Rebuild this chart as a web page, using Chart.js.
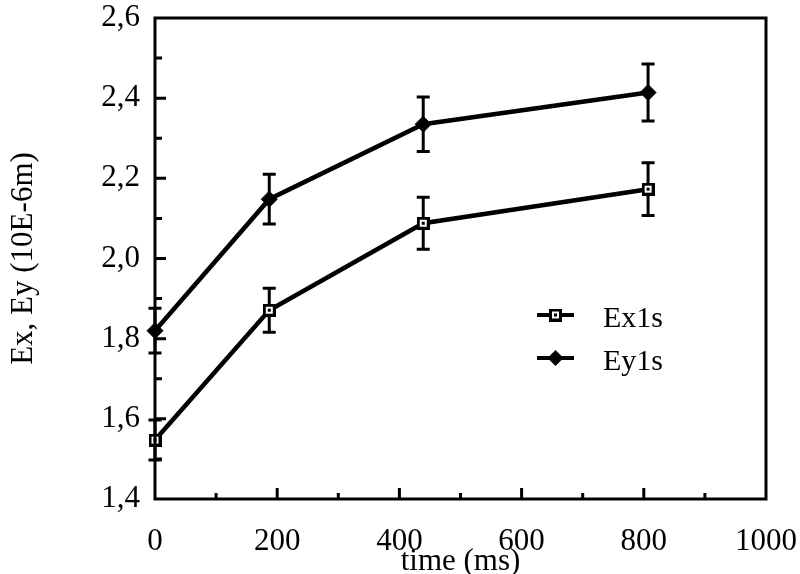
<!DOCTYPE html>
<html><head><meta charset="utf-8">
<script src="https://cdn.jsdelivr.net/npm/chart.js@4/dist/chart.umd.min.js"></script>
<style>html,body{margin:0;padding:0;background:#fff}</style>
</head><body>
<canvas id="c" width="800" height="574" style="width:800px;height:574px;display:block"></canvas>
<script>
// ---- data ----
const times   = [0, 187, 439, 807];
const ex1s    = [1.547, 1.871, 2.088, 2.173];
const ex1sErr = [0.050, 0.055, 0.065, 0.066];
const ey1s    = [1.820, 2.148, 2.335, 2.414];
const ey1sErr = [0.056, 0.062, 0.068, 0.071];
const seriesNames = ['Ex1s', 'Ey1s'];
const xTitle = 'time (ms)';
const yTitle = 'Ex, Ey (10E-6m)';
const xRange = [0, 1000], xMajorStep = 200, xMinorStep = 100;
const yRange = [1.4, 2.6], yMajorStep = 0.2, yMinorStep = 0.1;

const FONT = "'Liberation Serif', 'Times New Roman', serif";

function squareMarker() {
  const c = document.createElement('canvas');
  c.width = 13; c.height = 13;
  const g = c.getContext('2d');
  g.fillStyle = '#000'; g.fillRect(0, 0, 13, 13);
  g.fillStyle = '#fff'; g.fillRect(3, 3, 7, 7);
  g.fillStyle = '#000'; g.fillRect(5, 5, 3, 3);
  return c;
}
const sqImg = squareMarker();

const errorBars = {
  id: 'errorBars',
  beforeDatasetsDraw(chart) {
    const {ctx, scales: {x, y}} = chart;
    ctx.save();
    ctx.strokeStyle = '#000';
    ctx.lineWidth = 3;
    chart.data.datasets.forEach(ds => {
      ds.data.forEach((p, i) => {
        const e = ds.errors[i];
        const px = x.getPixelForValue(p.x);
        const y1 = y.getPixelForValue(p.y + e);
        const y2 = y.getPixelForValue(p.y - e);
        ctx.beginPath();
        ctx.moveTo(px, y1); ctx.lineTo(px, y2);
        ctx.moveTo(px - 6.5, y1); ctx.lineTo(px + 6.5, y1);
        ctx.moveTo(px - 6.5, y2); ctx.lineTo(px + 6.5, y2);
        ctx.stroke();
      });
    });
    ctx.restore();
  }
};

const frame = {
  id: 'frame',
  afterDraw(chart) {
    const {ctx, chartArea: a, scales: {x, y}} = chart;
    ctx.save();
    ctx.strokeStyle = '#000';
    ctx.lineWidth = 3;
    ctx.strokeRect(a.left, a.top, a.right - a.left, a.bottom - a.top);
    const ny = Math.round((yRange[1] - yRange[0]) / yMinorStep);
    const yRatio = Math.round(yMajorStep / yMinorStep);
    ctx.beginPath();
    for (let i = 1; i < ny; i++) {
      const v = yRange[0] + i * yMinorStep;
      const py = y.getPixelForValue(v);
      const len = (i % yRatio === 0) ? 11 : 7;
      ctx.moveTo(a.left, py); ctx.lineTo(a.left + len, py);
    }
    const nx = Math.round((xRange[1] - xRange[0]) / xMinorStep);
    const xRatio = Math.round(xMajorStep / xMinorStep);
    for (let i = 1; i < nx; i++) {
      const v = xRange[0] + i * xMinorStep;
      const px = x.getPixelForValue(v);
      const len = (i % xRatio === 0) ? 11 : 6;
      ctx.moveTo(px, a.bottom); ctx.lineTo(px, a.bottom - len);
    }
    ctx.stroke();
    ctx.restore();
  }
};

const legendBox = {
  id: 'legendBox',
  afterDraw(chart) {
    const {ctx, chartArea: a} = chart;
    const lx0 = a.left + 382, lx1 = a.left + 419;
    const rows = [a.top + 297, a.top + 340];
    ctx.save();
    ctx.font = '30px ' + FONT;
    ctx.fillStyle = '#000';
    ctx.textBaseline = 'middle';
    ctx.textAlign = 'left';
    chart.data.datasets.forEach((ds, i) => {
      const ly = rows[i];
      ctx.strokeStyle = '#000';
      ctx.lineWidth = 4;
      ctx.beginPath(); ctx.moveTo(lx0, ly); ctx.lineTo(lx1, ly); ctx.stroke();
      const cx = (lx0 + lx1) / 2;
      if (ds.pointStyle === 'rectRot') {
        ctx.beginPath();
        ctx.moveTo(cx - 8, ly); ctx.lineTo(cx, ly - 8); ctx.lineTo(cx + 8, ly); ctx.lineTo(cx, ly + 8);
        ctx.closePath(); ctx.fill();
      } else {
        ctx.drawImage(sqImg, cx - 6.5, ly - 6.5);
      }
      ctx.fillText(ds.label, a.left + 448, ly + 4);
    });
    ctx.restore();
  }
};

const mk = (xs, ys) => xs.map((t, i) => ({x: t, y: ys[i]}));

new Chart(document.getElementById('c'), {
  type: 'line',
  data: {
    datasets: [
      { label: seriesNames[0], data: mk(times, ex1s), errors: ex1sErr,
        borderColor: '#000', borderWidth: 4.5, tension: 0, fill: false,
        pointStyle: sqImg, pointRadius: 7, clip: false },
      { label: seriesNames[1], data: mk(times, ey1s), errors: ey1sErr,
        borderColor: '#000', backgroundColor: '#000', borderWidth: 4.5, tension: 0, fill: false,
        pointStyle: 'rectRot', pointRadius: 8, pointBorderWidth: 1, pointBackgroundColor: '#000', clip: false }
    ]
  },
  options: {
    responsive: false,
    animation: false,
    devicePixelRatio: 1,
    layout: { padding: 0 },
    plugins: { legend: { display: false }, tooltip: { enabled: false } },
    scales: {
      x: {
        type: 'linear', min: xRange[0], max: xRange[1],
        grid: { display: false, drawTicks: false }, border: { display: false },
        ticks: { stepSize: xMajorStep, color: '#000', padding: 24, maxRotation: 0,
                 font: { family: FONT, size: 31 },
                 callback: v => String(v) },
        title: { display: true, text: xTitle, color: '#000', padding: { top: 0, bottom: -3 },
                 font: { family: FONT, size: 31, lineHeight: 1.0 } },
        afterFit(s) { s.height = 75; s.paddingLeft = 0; s.paddingRight = 34; }
      },
      y: {
        type: 'linear', min: yRange[0], max: yRange[1],
        grid: { display: false, drawTicks: false }, border: { display: false },
        ticks: { stepSize: yMajorStep, color: '#000', padding: 15,
                 font: { family: FONT, size: 31 },
                 callback: v => v.toFixed(1).replace('.', ',') },
        title: { display: true, text: yTitle, color: '#000', padding: { top: 8, bottom: 0 },
                 font: { family: FONT, size: 31, lineHeight: 1 } },
        afterFit(s) { s.width = 155; s.paddingTop = 18; s.paddingBottom = 0; }
      }
    }
  },
  plugins: [errorBars, frame, legendBox]
});
</script>
</body></html>
